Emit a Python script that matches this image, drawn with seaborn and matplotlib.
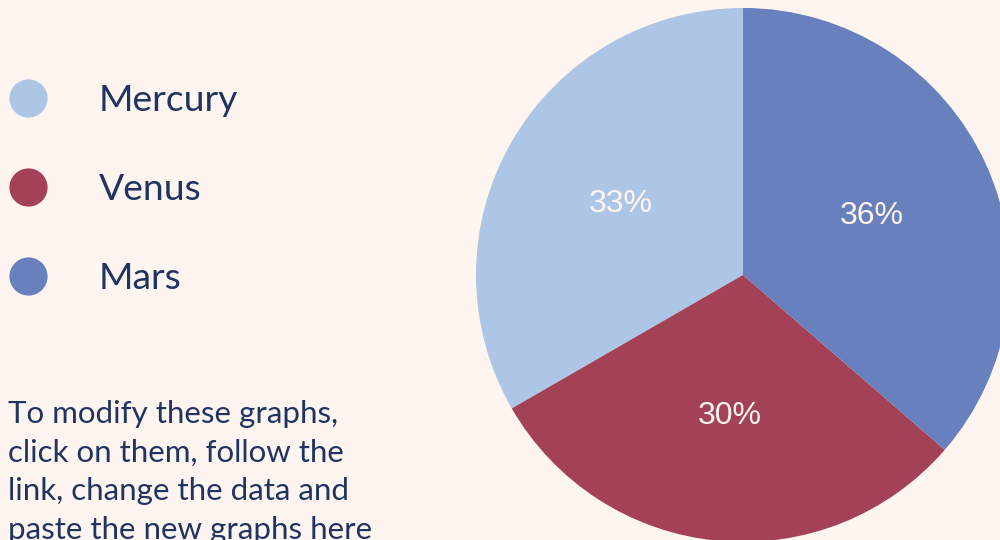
import matplotlib
matplotlib.use("Agg")
import matplotlib.pyplot as plt
from matplotlib.lines import Line2D
import seaborn as sns

planets = ["Mercury", "Venus", "Mars"]
shares = [33, 30, 36]
colors = ["#adc6e6", "#a34256", "#6880be"]
note = ("To modify these graphs,\nclick on them, follow the\n"
        "link, change the data and\npaste the new graphs here")

bg = "#fff5f0"
ink = "#1f3461"

sns.set_theme(style="white")
plt.rcParams["font.family"] = ["Lato", "DejaVu Sans"]

fig = plt.figure(figsize=(10, 5.4), dpi=100, facecolor=bg)

# pie centred at (743, 275) px with radius ~267 px
ax = fig.add_axes([0.476, -0.0037, 0.534, 0.989])
ax.set_facecolor(bg)
wedges, texts, autotexts = ax.pie(
    shares, colors=colors, startangle=90, counterclock=True,
    autopct=lambda p: f"{p:.0f}%", pctdistance=0.53,
    wedgeprops=dict(linewidth=0),
    textprops=dict(color="#fff5f0", fontsize=23, family="Liberation Sans"),
)
ax.set_xlim(-1, 1)
ax.set_ylim(-1, 1)
ax.set_aspect("equal")
ax.axis("off")

handles = [Line2D([0], [0], marker="o", linestyle="", markersize=27.5,
                  markerfacecolor=c, markeredgewidth=0) for c in colors]
fig.legend(handles, planets, loc="upper left", bbox_to_anchor=(0.0094, 0.845),
           frameon=False, fontsize=26.8, labelcolor=ink, handlelength=1.0,
           handletextpad=1.4, labelspacing=1.51, borderpad=0, borderaxespad=0)

# baseline of the last (clipped) line sits near the bottom edge
fig.text(0.008, (540 - 538.5) / 540, note, color=ink, fontsize=22.5,
         va="baseline", ha="left", linespacing=1.46)

fig.savefig("out.png", dpi=100, facecolor=bg)
